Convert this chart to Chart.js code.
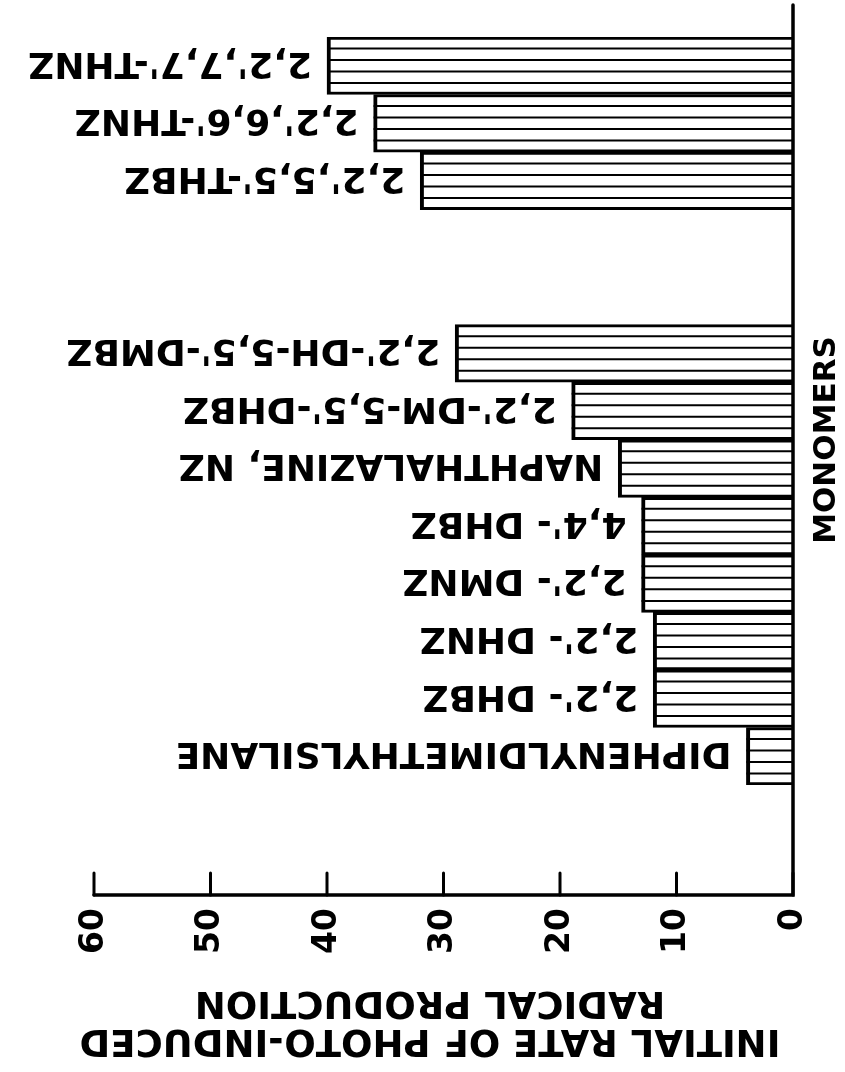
<!DOCTYPE html>
<html>
<head>
<meta charset="utf-8">
<script src="https://cdn.jsdelivr.net/npm/chart.js@4/dist/chart.umd.min.js"></script>
<style>
  html, body { margin: 0; padding: 0; background: #fff; }
  #wrap { width: 845px; height: 1072px; }
</style>
</head>
<body>
<div id="wrap"><canvas id="chart"></canvas></div>
<script>
// compounds top to bottom, two blank slots make the gap between the groups
const compounds = [
    "2,2',7,7'-THNZ", "2,2',6,6'-THNZ", "2,2',5,5'-THBZ", "", "",
    "2,2'-DH-5,5'-DMBZ", "2,2'-DM-5,5'-DHBZ", "NAPHTHALAZINE, NZ", "4,4'- DHBZ",
    "2,2'- DMNZ", "2,2'- DHNZ", "2,2'- DHBZ", "DIPHENYLDIMETHYLSILANE"
];
const rates = [40, 36, 32, null, null, 29, 19, 15, 13, 13, 12, 12, 4];
const rateTicks = [0, 10, 20, 30, 40, 50, 60];
const axisTitle = ["INITIAL RATE OF PHOTO-INDUCED", "RADICAL PRODUCTION"];
const groupLabel = "MONOMERS";

const FONT = '"DejaVu Sans", sans-serif';

// text in the scan is turned upside down (180 degrees)
function turnedText(ctx, text, x, y, size, align) {
    ctx.save();
    ctx.translate(x, y);
    ctx.rotate(Math.PI);
    ctx.font = 'bold ' + size + 'px ' + FONT;
    ctx.textAlign = align;
    ctx.textBaseline = 'alphabetic';
    ctx.fillText(text, 0, size * 0.365);
    ctx.restore();
}

const figure = {
    id: 'figure',
    afterDatasetsDraw(chart) {
        const { ctx, chartArea: a, scales: { x } } = chart;
        const meta = chart.getDatasetMeta(0);
        ctx.save();
        ctx.strokeStyle = '#000';
        ctx.fillStyle = '#000';

        // hatching and bar labels
        meta.data.forEach((bar, i) => {
            if (rates[i] == null) return;
            const p = bar.getProps(['x', 'y', 'base', 'height'], true);
            const top = p.y - p.height / 2;
            ctx.lineWidth = 2;
            for (let k = 1; k < 5; k++) {
                const yy = top + p.height * k / 5;
                ctx.beginPath();
                ctx.moveTo(p.x, yy);
                ctx.lineTo(p.base, yy);
                ctx.stroke();
            }
            turnedText(ctx, compounds[i], p.x - 15, p.y, 36, 'left');
        });

        // axis frame with inward ticks
        const x0 = x.getPixelForValue(0);
        const x60 = x.getPixelForValue(60);
        const axisY = a.bottom + 110;
        ctx.lineWidth = 3.5;
        ctx.lineCap = 'round';
        ctx.beginPath();
        ctx.moveTo(x0, a.top - 32);
        ctx.lineTo(x0, axisY);
        ctx.lineTo(x60, axisY);
        ctx.stroke();
        ctx.lineWidth = 3;
        rateTicks.forEach(v => {
            const px = x.getPixelForValue(v);
            ctx.beginPath();
            ctx.moveTo(px, axisY);
            ctx.lineTo(px, axisY - 22);
            ctx.stroke();
        });

        // axis title
        const cx = 430;
        turnedText(ctx, axisTitle[1], cx, 1006, 37, 'center');
        turnedText(ctx, axisTitle[0], cx, 1044, 37, 'center');

        // group label
        ctx.save();
        ctx.translate(x0 + 34, a.top + 403);
        ctx.rotate(-Math.PI / 2);
        ctx.textAlign = 'center';
        ctx.textBaseline = 'middle';
        ctx.font = 'bold 31px ' + FONT;
        ctx.fillText(groupLabel, 0, 0);
        ctx.restore();

        ctx.restore();
    }
};

new Chart(document.getElementById('chart'), {
    type: 'bar',
    data: {
        labels: compounds,
        datasets: [{
            data: rates,
            backgroundColor: '#fff',
            borderColor: '#000',
            borderWidth: { left: 4, top: 3, bottom: 3, right: 0 },
            borderSkipped: 'start',
            barPercentage: 1,
            categoryPercentage: 1
        }]
    },
    options: {
        responsive: true,
        maintainAspectRatio: false,
        animation: false,
        indexAxis: 'y',
        layout: { padding: { left: 94, right: 52, top: 37, bottom: 0 } },
        plugins: { legend: { display: false }, tooltip: { enabled: false } },
        scales: {
            y: { display: false },
            x: {
                min: 0,
                max: 60,
                reverse: true,
                grid: { display: false },
                border: { display: false },
                afterBuildTicks(s) { s.ticks = rateTicks.map(v => ({ value: v })); },
                afterFit(s) { s.height = 287; },
                ticks: {
                    minRotation: 90,
                    maxRotation: 90,
                    padding: 115,
                    color: '#000',
                    font: { family: 'DejaVu Sans', weight: 'bold', size: 33 }
                }
            }
        }
    },
    plugins: [figure]
});
</script>
</body>
</html>
